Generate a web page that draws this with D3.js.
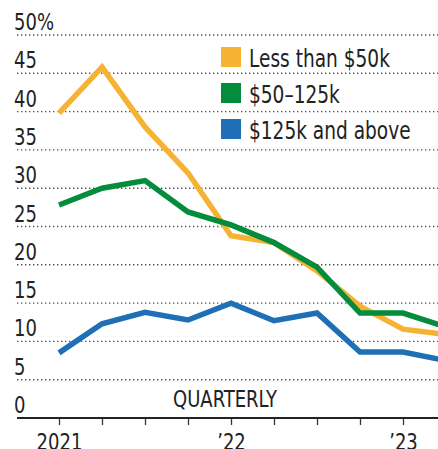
<!DOCTYPE html>
<html>
<head>
<meta charset="utf-8">
<script src="https://cdn.jsdelivr.net/npm/d3@7"></script>
<style>
  html, body { margin: 0; padding: 0; background: #fff; }
  svg { display: block; }
  text { font-family: 'Liberation Sans Narrow', 'DejaVu Sans Condensed', sans-serif; fill: #222; }
</style>
</head>
<body>
<div id="chart"></div>
<script>
// Share of households by income, quarterly, 2021 Q1 – 2023 Q2
const quarters = ['2021 Q1', '2021 Q2', '2021 Q3', '2021 Q4', '2022 Q1', '2022 Q2', '2022 Q3', '2022 Q4', '2023 Q1', '2023 Q2']
const lessThan50k = [39.8, 45.8, 38, 32, 23.8, 22.9, 19.2, 14.6, 11.6, 10.9]
const from50to125k = [27.8, 30, 31, 26.9, 25.2, 22.9, 19.7, 13.7, 13.7, 11.9]
const above125k = [8.5, 12.3, 13.8, 12.8, 15, 12.7, 13.7, 8.6, 8.6, 7.5]

const seriesNames = ['Less than $50k', '$50\u2013125k', '$125k and above']
const seriesColors = ['#f6b333', '#038c3b', '#1f6fb6']
const yTicks = [0, 5, 10, 15, 20, 25, 30, 35, 40, 45, 50]
const xTickLabels = { 0: '2021', 4: '\u201922', 8: '\u201923' }

const width = 438
const height = 449
// the fonts we have are wider than the original condensed face, squeeze them
const squeeze = 'scale(0.87, 1)'

const svg = d3
  .select('#chart')
  .append('svg')
  .attr('width', width)
  .attr('height', height)

// Scales
const x = d3.scaleLinear().domain([0, quarters.length - 1]).range([59, 446])
const y = d3.scaleLinear().domain([0, 50]).range([418, 35])
const gridLeft = 17

// Dotted gridlines (skip zero, that's the axis)
svg
  .append('g')
  .selectAll('line')
  .data(yTicks.filter((d) => d > 0))
  .join('line')
  .attr('x1', gridLeft)
  .attr('x2', width)
  .attr('y1', (d) => y(d))
  .attr('y2', (d) => y(d))
  .attr('stroke', '#555')
  .attr('stroke-width', 1.4)
  .attr('stroke-dasharray', '1.4,2.6')

// Y labels sit above their gridline
svg
  .append('g')
  .selectAll('text')
  .data(yTicks)
  .join('text')
  .attr('transform', (d) => `translate(14, ${y(d) - 5}) ${squeeze}`)
  .attr('font-size', 23)
  .text((d) => (d === 50 ? '50%' : d))

// Legend
const legend = svg
  .append('g')
  .selectAll('g')
  .data(seriesNames)
  .join('g')
  .attr('transform', (d, i) => `translate(221, ${47 + i * 36})`)

legend
  .append('rect')
  .attr('width', 20)
  .attr('height', 20)
  .attr('fill', (d, i) => seriesColors[i])

legend
  .append('text')
  .attr('transform', `translate(28, 20) scale(0.86, 1)`)
  .attr('font-size', 24)
  .text((d) => d)

// Lines
const line = d3
  .line()
  .x((d, i) => x(i))
  .y((d) => y(d))

svg
  .append('g')
  .selectAll('path')
  .data([lessThan50k, from50to125k, above125k])
  .join('path')
  .attr('d', line)
  .attr('fill', 'none')
  .attr('stroke', (d, i) => seriesColors[i])
  .attr('stroke-width', 5.5)
  .attr('stroke-linejoin', 'miter')

// "QUARTERLY" note
svg
  .append('text')
  .attr('transform', `translate(173, 407) ${squeeze}`)
  .attr('font-size', 23)
  .text('QUARTERLY')

// X axis
const xAxis = d3
  .axisBottom(x)
  .tickValues(d3.range(quarters.length))
  .tickSize(7)
  .tickPadding(9)
  .tickFormat((d) => xTickLabels[d] || '')

const gx = svg
  .append('g')
  .attr('transform', `translate(0, ${y(0)})`)
  .call(xAxis)

gx.select('.domain').remove()
gx.selectAll('.tick line').attr('stroke', '#333').attr('stroke-width', 1.3)
gx.selectAll('.tick text')
  .attr('transform', squeeze)
  .attr('font-size', 23)
  .attr('fill', '#222')
  .style('font-family', "'Liberation Sans Narrow', 'DejaVu Sans Condensed', sans-serif")

svg
  .append('line')
  .attr('x1', gridLeft)
  .attr('x2', width)
  .attr('y1', y(0))
  .attr('y2', y(0))
  .attr('stroke', '#222')
  .attr('stroke-width', 2)
</script>
</body>
</html>
